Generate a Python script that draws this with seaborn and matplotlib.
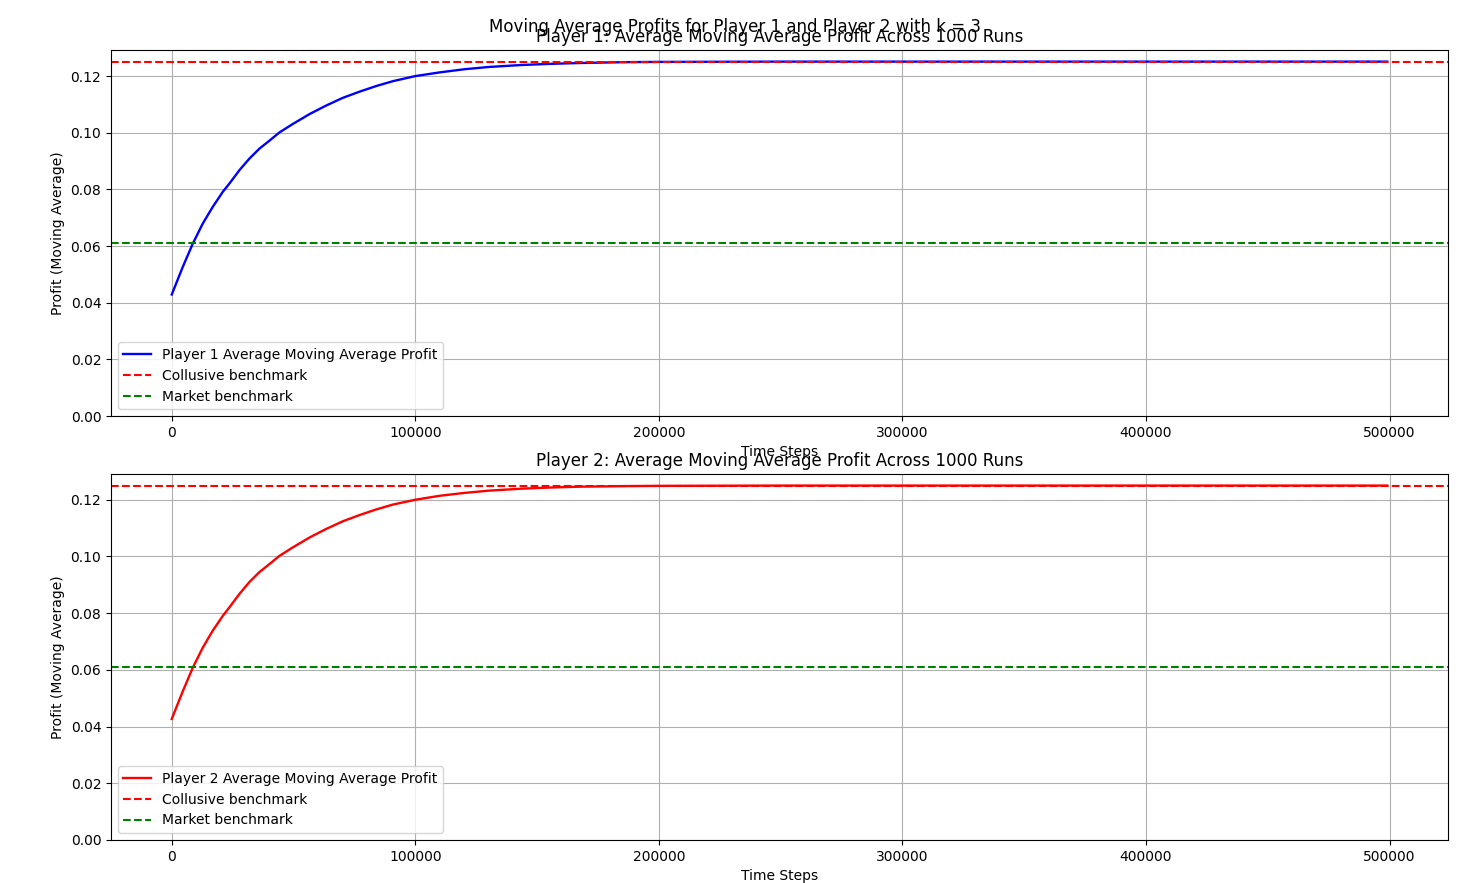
import numpy as np
import pandas as pd
import matplotlib
matplotlib.use("Agg")
import matplotlib.pyplot as plt
import seaborn as sns

# values
time_steps = [0, 4500, 8600, 12700, 16800, 21000, 23700, 27800, 31900, 36000,
              40100, 44200, 49700, 56600, 63400, 70200, 77100, 84000, 90800,
              100000, 110000, 120000, 130000, 143400, 155000, 167000, 185000,
              200000, 250000, 300000, 350000, 400000, 450000, 499000]
p1_profit = [0.0429, 0.0526, 0.0608, 0.0679, 0.0738, 0.0792, 0.0821, 0.0868,
             0.0909, 0.0944, 0.0972, 0.1001, 0.1031, 0.1066, 0.1096, 0.1123,
             0.1145, 0.1165, 0.1182, 0.1200, 0.1213, 0.1224, 0.1232, 0.1239,
             0.1243, 0.1246, 0.1249, 0.1250, 0.1251, 0.1251, 0.1251, 0.1251,
             0.1251, 0.1251]
p2_profit = [0.0427, 0.0524, 0.0607, 0.0678, 0.0738, 0.0791, 0.0821, 0.0868,
             0.0910, 0.0945, 0.0973, 0.1002, 0.1032, 0.1067, 0.1097, 0.1124,
             0.1146, 0.1166, 0.1183, 0.1200, 0.1214, 0.1224, 0.1232, 0.1239,
             0.1243, 0.1246, 0.1248, 0.1249, 0.1250, 0.1250, 0.1250, 0.1250,
             0.1250, 0.1250]
collusive = 0.125
market = 0.0611

df = pd.DataFrame({"t": time_steps, "p1": p1_profit, "p2": p2_profit})

fig, axes = plt.subplots(2, 1, figsize=(14.7, 8.83), dpi=100)

players = [("p1", "Player 1", "blue"), ("p2", "Player 2", "red")]
for ax, (col, name, color) in zip(axes, players):
    sns.lineplot(data=df, x="t", y=col, ax=ax, color=color, linewidth=1.7,
                 label=f"{name} Average Moving Average Profit")
    ax.axhline(collusive, color="red", linestyle="--", label="Collusive benchmark")
    ax.axhline(market, color="green", linestyle="--", label="Market benchmark")
    ax.set_ylim(bottom=0)
    ax.set_title(f"{name}: Average Moving Average Profit Across 1000 Runs")
    ax.set_xlabel("Time Steps")
    ax.set_ylabel("Profit (Moving Average)")
    ax.legend(loc="lower left")
    ax.grid(True)

fig.suptitle("Moving Average Profits for Player 1 and Player 2 with k = 3")
plt.subplots_adjust(left=0.0755, right=0.985, top=0.9434, bottom=0.0487, hspace=0.158)
plt.savefig("out.png")
